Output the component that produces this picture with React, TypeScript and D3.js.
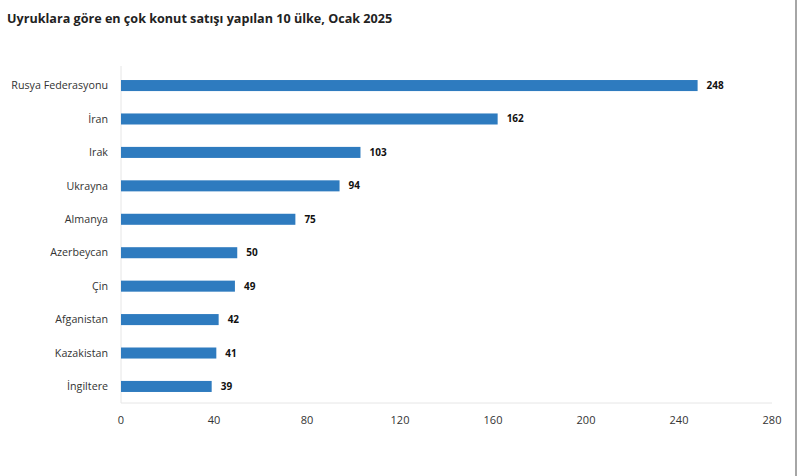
import React, { useEffect, useRef } from 'react';
import * as d3 from 'd3';

const countries = ['Rusya Federasyonu', 'İran', 'Irak', 'Ukrayna', 'Almanya', 'Azerbeycan', 'Çin', 'Afganistan', 'Kazakistan', 'İngiltere'];
const sales = [248, 162, 103, 94, 75, 50, 49, 42, 41, 39];
const xTicks = [0, 40, 80, 120, 160, 200, 240, 280];

const App = () => {
  const ref = useRef(null);

  useEffect(() => {
    const svg = d3.select(ref.current);
    svg.selectAll('*').remove();
    const font = "'Open Sans', 'Noto Sans', sans-serif";

    const left = 121, right = 772, top = 69, bottom = 403;

    const x = d3.scaleLinear().domain([0, 280]).range([left, right]);
    const y = d3.scaleBand().domain(countries).range([top, bottom]).paddingInner(0.67).paddingOuter(0.33);

    svg.append('rect').attr('width', 797).attr('height', 476).attr('fill', '#fff');

    svg.append('text')
      .attr('x', 7).attr('y', 23)
      .text('Uyruklara göre en çok konut satışı yapılan 10 ülke, Ocak 2025')
      .style('font-family', font).style('font-size', '12.6px').style('font-weight', 700)
      .style('fill', '#222');

    // axis lines
    svg.append('line').attr('x1', left).attr('x2', left).attr('y1', 66).attr('y2', 403)
      .attr('stroke', '#e6e6e6').attr('stroke-width', 1);
    svg.append('line').attr('x1', left).attr('x2', right).attr('y1', 403).attr('y2', 403)
      .attr('stroke', '#e6e6e6').attr('stroke-width', 1);

    // right border
    svg.append('line').attr('x1', 796).attr('x2', 796).attr('y1', 0).attr('y2', 476)
      .attr('stroke', '#888').attr('stroke-width', 1.5);

    const data = countries.map((c, i) => ({ c, v: sales[i] }));

    svg.append('g').selectAll('rect').data(data).enter().append('rect')
      .attr('x', x(0))
      .attr('y', d => y(d.c))
      .attr('width', d => x(d.v) - x(0))
      .attr('height', y.bandwidth())
      .attr('fill', '#2e7bbf');

    svg.append('g').selectAll('text').data(data).enter().append('text')
      .attr('x', d => x(d.v) + 9)
      .attr('y', d => y(d.c) + y.bandwidth() / 2)
      .attr('dy', '0.35em')
      .text(d => d.v)
      .style('font-family', font).style('font-size', '10px').style('font-weight', 700)
      .style('fill', '#111');

    svg.append('g').selectAll('text').data(data).enter().append('text')
      .attr('x', 108)
      .attr('y', d => y(d.c) + y.bandwidth() / 2)
      .attr('dy', '0.35em')
      .attr('text-anchor', 'end')
      .text(d => d.c)
      .style('font-family', font).style('font-size', '10.7px')
      .style('fill', '#333');

    svg.append('g').selectAll('text').data(xTicks).enter().append('text')
      .attr('x', d => x(d))
      .attr('y', 424)
      .attr('text-anchor', 'middle')
      .text(d => d)
      .style('font-family', font).style('font-size', '11px')
      .style('fill', '#333');
  }, []);

  return (
    <svg ref={ref} width={797} height={476} style={{ position: 'absolute', left: 0, top: 0 }}></svg>
  );
};

export default App;
